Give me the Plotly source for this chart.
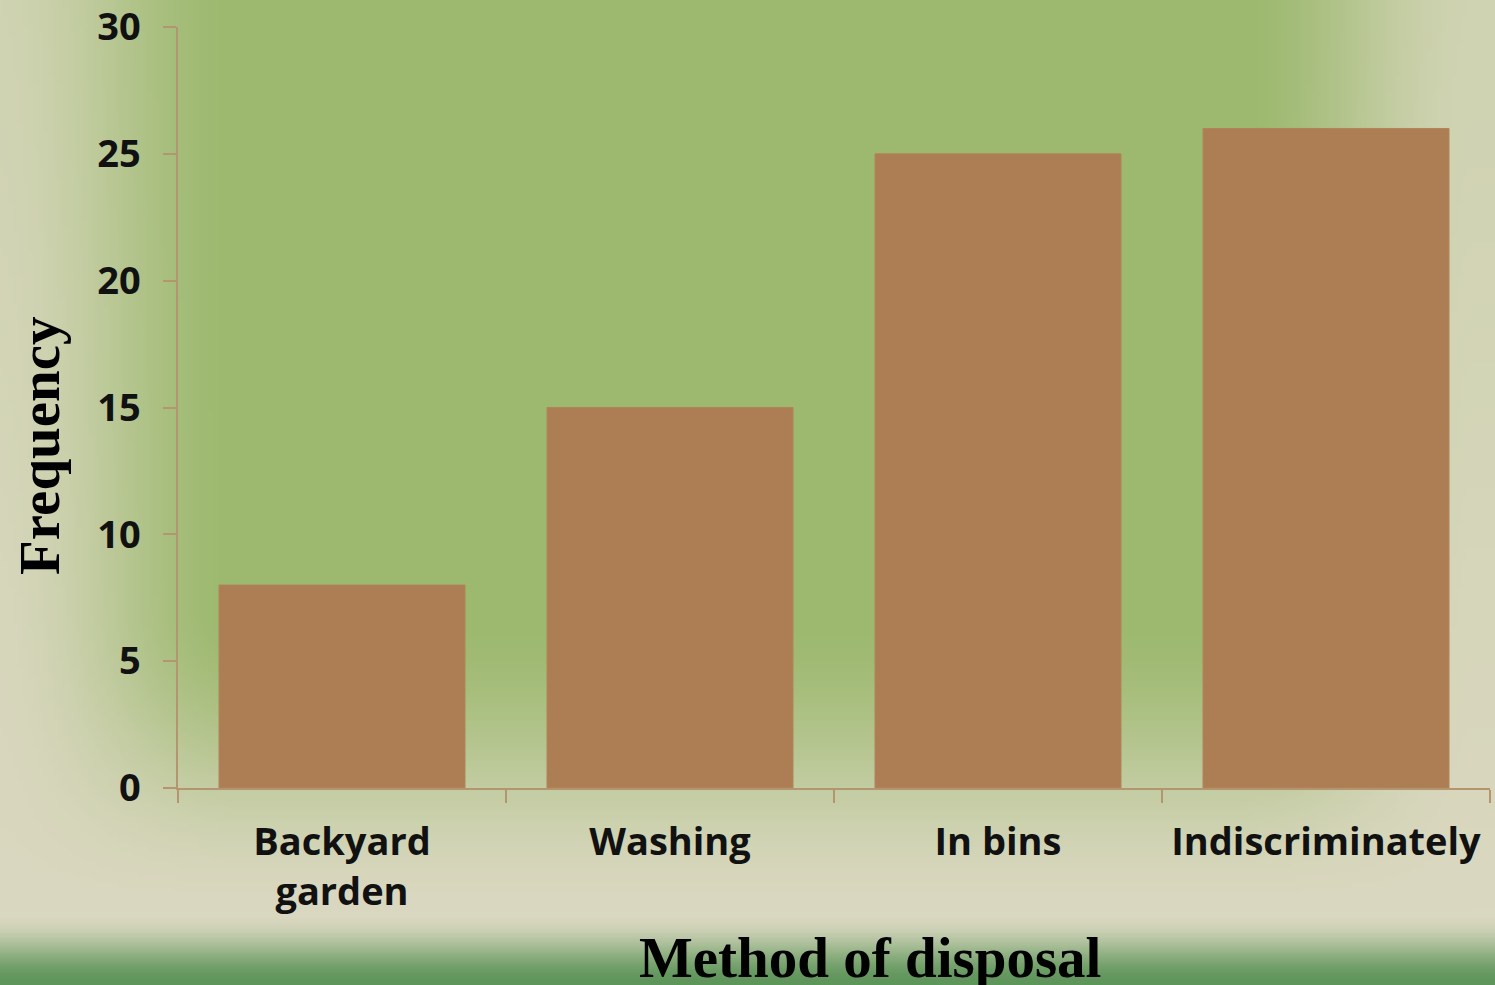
import base64
import struct
import zlib

import plotly.graph_objects as go

# ---------------- data ----------------
categories = ["Backyard<br>garden", "Washing", "In bins", "Indiscriminately"]
frequency = [8, 15, 25, 26]
y_ticks = [0, 5, 10, 15, 20, 25, 30]

# ---------------- figure geometry ----------------
FIG_W, FIG_H = 1495, 985
M_L, M_R, M_T, M_B = 178, 5, 27, 197
PW = FIG_W - M_L - M_R
PH = FIG_H - M_T - M_B


# ---------------- background gradient (decoration) ----------------
def clamp(v, lo=0.0, hi=1.0):
    return max(lo, min(hi, v))


def smooth(t):
    t = clamp(t)
    return t * t * (3 - 2 * t)


def mix(a, b, t):
    return tuple(a[k] + (b[k] - a[k]) * t for k in range(3))


GREEN = (157, 185, 111)
BEIGE_TOP = (207, 211, 177)
BEIGE_LOW = (218, 216, 192)
STRIP_GREEN = (92, 148, 88)

SCALE = 5
IW, IH = FIG_W // SCALE, FIG_H // SCALE


def pixel(px, py):
    if px < 240:
        h = smooth(px / 240)
    elif px > 1235:
        h = 1 - smooth((px - 1235) / 235)
    else:
        h = 1.0
    if py < 610:
        v = 1.0
    else:
        v = 1 - smooth((py - 610) / 300)
    base = mix(BEIGE_TOP, BEIGE_LOW, clamp(py / 905))
    c = mix(base, GREEN, h * v)
    if py > 915:
        c = mix(c, STRIP_GREEN, smooth((py - 915) / 70) * 0.98)
    return c


raw = bytearray()
for j in range(IH):
    raw.append(0)
    py = (j + 0.5) * FIG_H / IH
    for i in range(IW):
        px = (i + 0.5) * FIG_W / IW
        r, g, b = pixel(px, py)
        raw += bytes((int(r), int(g), int(b)))


def chunk(tag, data):
    c = struct.pack(">I", len(data)) + tag + data
    return c + struct.pack(">I", zlib.crc32(tag + data) & 0xFFFFFFFF)


png = b"\x89PNG\r\n\x1a\n"
png += chunk(b"IHDR", struct.pack(">IIBBBBB", IW, IH, 8, 2, 0, 0, 0))
png += chunk(b"IDAT", zlib.compress(bytes(raw), 9))
png += chunk(b"IEND", b"")
bg_src = "data:image/png;base64," + base64.b64encode(png).decode()

# ---------------- chart ----------------
AXIS_COLOR = "#B39570"
TICK_FONT = dict(family="Open Sans", size=38, color="#111111", weight="bold")
TITLE_FONT = dict(family="Liberation Serif", size=57, color="#000000", weight="bold")

fig = go.Figure(
    go.Bar(
        x=categories,
        y=frequency,
        marker=dict(color="#AD7E54", line=dict(color="#B08458", width=1)),
        showlegend=False,
    )
)

fig.update_layout(
    width=FIG_W,
    height=FIG_H,
    margin=dict(l=M_L, r=M_R, t=M_T, b=M_B, pad=0),
    paper_bgcolor="#CFD3B2",
    plot_bgcolor="rgba(0,0,0,0)",
    bargap=0.25,
    images=[
        dict(
            source=bg_src,
            xref="paper",
            yref="paper",
            x=-M_L / PW,
            y=1 + M_T / PH,
            sizex=FIG_W / PW,
            sizey=FIG_H / PH,
            xanchor="left",
            yanchor="top",
            sizing="stretch",
            layer="below",
        )
    ],
    xaxis=dict(
        showline=True,
        linecolor=AXIS_COLOR,
        linewidth=1.5,
        ticks="outside",
        ticklen=13,
        tickwidth=1.5,
        tickcolor=AXIS_COLOR,
        tickson="boundaries",
        showgrid=False,
        tickfont=TICK_FONT,
        ticklabelstandoff=20,
        ticklabeloverflow="allow",
        automargin=False,
    ),
    yaxis=dict(
        range=[0, 30],
        tickvals=y_ticks,
        showline=True,
        linecolor=AXIS_COLOR,
        linewidth=1.5,
        ticks="outside",
        ticklen=13,
        tickwidth=1.5,
        tickcolor=AXIS_COLOR,
        showgrid=False,
        zeroline=False,
        tickfont=TICK_FONT,
        ticklabelstandoff=15,
        ticklabeloverflow="allow",
        automargin=False,
    ),
    annotations=[
        dict(
            text="Frequency",
            textangle=-90,
            xref="paper",
            yref="paper",
            x=(40 - M_L) / PW,
            y=(FIG_H - M_B - 446) / PH,
            xanchor="center",
            yanchor="middle",
            showarrow=False,
            font=TITLE_FONT,
        ),
        dict(
            text="Method of disposal",
            xref="paper",
            yref="paper",
            x=(870 - M_L) / PW,
            y=(FIG_H - M_B - 957) / PH,
            xanchor="center",
            yanchor="middle",
            showarrow=False,
            font=TITLE_FONT,
        ),
    ],
)

fig.write_html(
    "out.html",
    config={"displayModeBar": False},
    post_script="document.body.style.margin='0';document.body.style.overflow='hidden';",
)
